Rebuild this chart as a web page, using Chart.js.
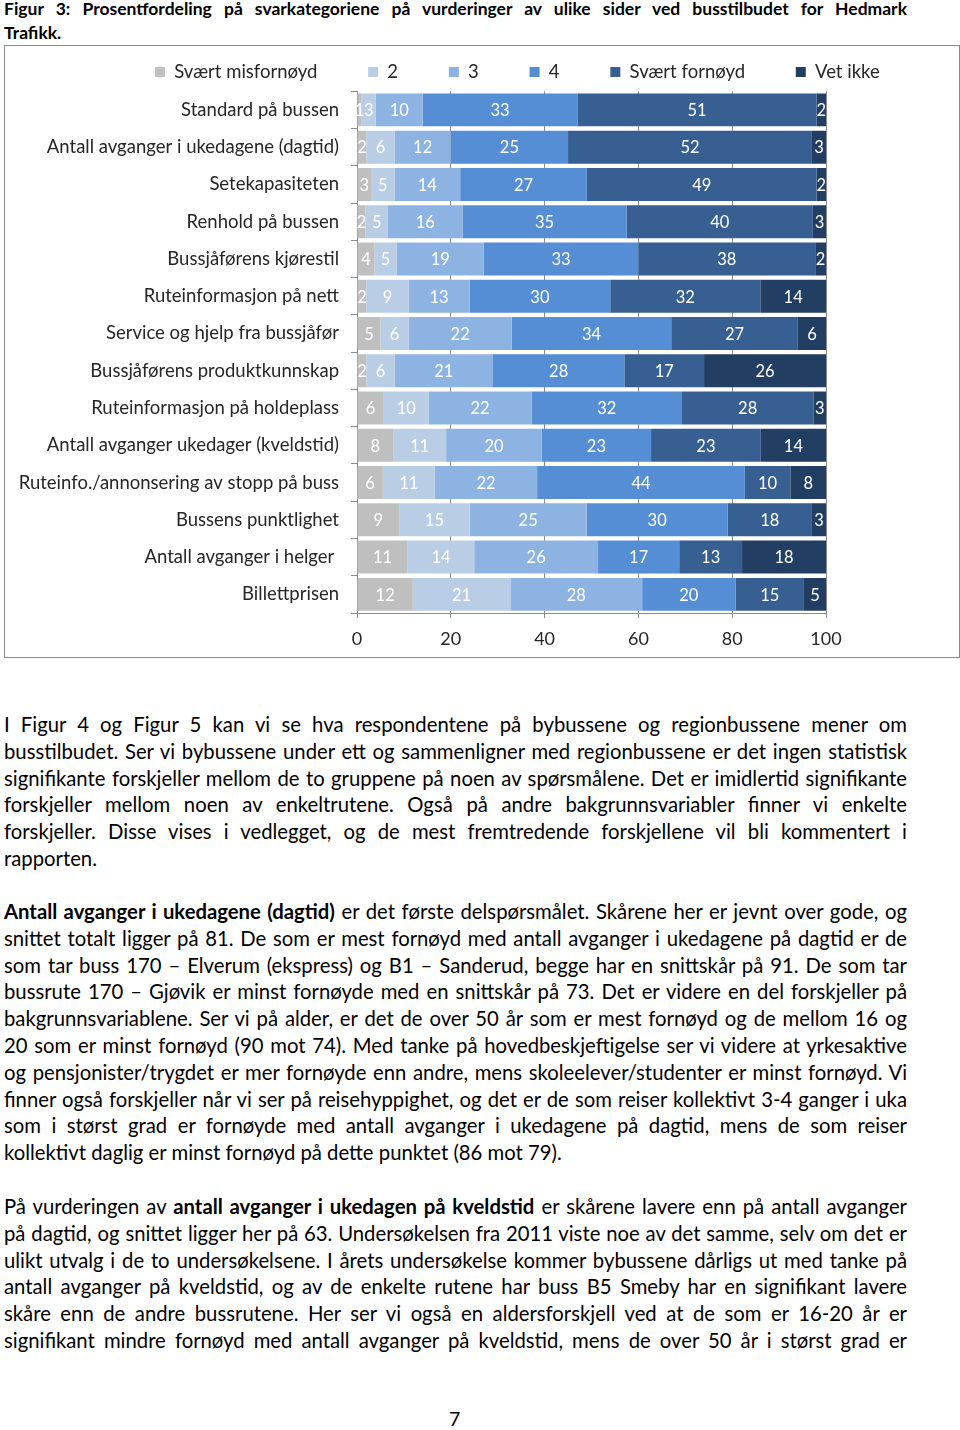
<!DOCTYPE html>
<html>
<head>
<meta charset="utf-8">
<script src="https://cdn.jsdelivr.net/npm/chart.js@4/dist/chart.umd.min.js"></script>
<style>
  body { margin: 0; background: #fff; width: 960px; height: 1430px; position: relative; overflow: hidden;
         font-family: Lato, "Liberation Sans", sans-serif; color: #000; }
  .block { position: absolute; left: 4px; width: 903px; }
  .title { top: -3px; font-weight: bold; font-size: 17.5px; line-height: 24px; }
  .txt { font-size: 20.3px; line-height: 26.8px; }
  .j { text-align: justify; text-align-last: justify; white-space: nowrap; word-spacing: -2.5px; }
  .title .j { word-spacing: 0; }
  .j, .l { height: 26.8px; }
  .title .j, .title .l { height: 24px; }
  #box { position: absolute; left: 4px; top: 45px; width: 954px; height: 611px; border: 1px solid #8a8a8a; overflow: hidden; }
  #wrap { position: absolute; left: 0; top: -34px; width: 954px; height: 645px; }
  #page { position: absolute; left: 449px; top: 1407px; font-size: 19.5px; }
</style>
</head>
<body>
<div class="block title">
  <div class="j">Figur 3: Prosentfordeling på svarkategoriene på vurderinger av ulike sider ved busstilbudet for Hedmark</div>
  <div class="l">Trafikk.</div>
</div>

<div id="box"><div id="wrap"><canvas id="chart"></canvas></div></div>

<div class="block txt" style="top:711px">
  <div class="j">I Figur 4 og Figur 5 kan vi se hva respondentene på bybussene og regionbussene mener om</div>
  <div class="j">busstilbudet. Ser vi bybussene under ett og sammenligner med regionbussene er det ingen statistisk</div>
  <div class="j">signifikante forskjeller mellom de to gruppene på noen av spørsmålene. Det er imidlertid signifikante</div>
  <div class="j">forskjeller mellom noen av enkeltrutene. Også på andre bakgrunnsvariabler finner vi enkelte</div>
  <div class="j">forskjeller. Disse vises i vedlegget, og de mest fremtredende forskjellene vil bli kommentert i</div>
  <div class="l">rapporten.</div>
</div>

<div class="block txt" style="top:898px">
  <div class="j"><b>Antall avganger i ukedagene (dagtid)</b> er det første delspørsmålet. Skårene her er jevnt over gode, og</div>
  <div class="j">snittet totalt ligger på 81. De som er mest fornøyd med antall avganger i ukedagene på dagtid er de</div>
  <div class="j">som tar buss 170 – Elverum (ekspress) og B1 – Sanderud, begge har en snittskår på 91. De som tar</div>
  <div class="j">bussrute 170 – Gjøvik er minst fornøyde med en snittskår på 73. Det er videre en del forskjeller på</div>
  <div class="j">bakgrunnsvariablene. Ser vi på alder, er det de over 50 år som er mest fornøyd og de mellom 16 og</div>
  <div class="j">20 som er minst fornøyd (90 mot 74). Med tanke på hovedbeskjeftigelse ser vi videre at yrkesaktive</div>
  <div class="j">og pensjonister/trygdet er mer fornøyde enn andre, mens skoleelever/studenter er minst fornøyd. Vi</div>
  <div class="j">finner også forskjeller når vi ser på reisehyppighet, og det er de som reiser kollektivt 3-4 ganger i uka</div>
  <div class="j">som i størst grad er fornøyde med antall avganger i ukedagene på dagtid, mens de som reiser</div>
  <div class="l">kollektivt daglig er minst fornøyd på dette punktet (86 mot 79).</div>
</div>

<div class="block txt" style="top:1193px">
  <div class="j">På vurderingen av <b>antall avganger i ukedagen på kveldstid</b> er skårene lavere enn på antall avganger</div>
  <div class="j">på dagtid, og snittet ligger her på 63. Undersøkelsen fra 2011 viste noe av det samme, selv om det er</div>
  <div class="j">ulikt utvalg i de to undersøkelsene. I årets undersøkelse kommer bybussene dårligs ut med tanke på</div>
  <div class="j">antall avganger på kveldstid, og av de enkelte rutene har buss B5 Smeby har en signifikant lavere</div>
  <div class="j">skåre enn de andre bussrutene. Her ser vi også en aldersforskjell ved at de som er 16-20 år er</div>
  <div class="j">signifikant mindre fornøyd med antall avganger på kveldstid, mens de over 50 år i størst grad er</div>
</div>

<div id="page">7</div>

<script>
// questions, top to bottom
const categories = [
  'Standard på bussen',
  'Antall avganger i ukedagene (dagtid)',
  'Setekapasiteten',
  'Renhold på bussen',
  'Bussjåførens kjørestil',
  'Ruteinformasjon på nett',
  'Service og hjelp fra bussjåfør',
  'Bussjåførens produktkunnskap',
  'Ruteinformasjon på holdeplass',
  'Antall avganger ukedager (kveldstid)',
  'Ruteinfo./annonsering av stopp på buss',
  'Bussens punktlighet',
  'Antall avganger i helger ',
  'Billettprisen'
];

const seriesNames = ['Svært misfornøyd', '2', '3', '4', 'Svært fornøyd', 'Vet ikke'];

// percent per answer category (labels show the rounded value)
const veryDissatisfied = [1, 2, 3, 1.8, 3.7, 2, 5, 2, 5.7, 7.7, 5.5, 9, 10.8, 11.9];
const score2 = [3, 6, 5, 4.8, 4.8, 9, 6, 6, 9.6, 11.3, 11.1, 15, 14.2, 20.8];
const score3 = [10, 12, 14, 15.9, 18.5, 13, 22, 21, 21.9, 20.4, 21.8, 25, 26.4, 28.1];
const score4 = [33, 25, 27, 35.0, 33.0, 30, 34, 28, 32.1, 23.3, 44.3, 30, 17.3, 19.9];
const verySatisfied = [51, 52, 49, 39.7, 37.7, 32, 27, 17, 28.0, 23.4, 9.7, 18, 13.4, 14.6];
const dontKnow = [2, 3, 2, 2.8, 2.3, 14, 6, 26, 2.7, 13.9, 7.6, 3, 17.9, 4.7];

const xTicks = [0, 20, 40, 60, 80, 100];

const seriesColors = ['#BFBFBF', '#B9CDE5', '#8DB3E2', '#558ED5', '#375F92', '#233E63'];

const allSeries = [veryDissatisfied, score2, score3, score4, verySatisfied, dontKnow];

const axisGrey = '#8a8a8a';
const textColor = '#262626';

// white value labels in the middle of each segment
const barLabels = {
  id: 'barLabels',
  afterDatasetsDraw(chart) {
    const ctx = chart.ctx;
    ctx.save();
    ctx.font = '16.5px Lato, sans-serif';
    ctx.fillStyle = '#ffffff';
    ctx.textAlign = 'center';
    ctx.textBaseline = 'middle';
    chart.data.datasets.forEach((ds, i) => {
      chart.getDatasetMeta(i).data.forEach((bar, j) => {
        const v = Math.round(ds.data[j]);
        ctx.fillText(String(v), (bar.x + bar.base) / 2, bar.y + 1);
      });
    });
    ctx.restore();
  }
};

// the legend starts further left than chart.js would center it
const legendShift = {
  id: 'legendShift',
  afterLayout(chart) {
    chart.legend.left = 150 - chart.legend.options.labels.padding;
  }
};

new Chart(document.getElementById('chart'), {
  type: 'bar',
  data: {
    labels: categories,
    datasets: seriesNames.map((name, i) => ({
      label: name,
      data: allSeries[i],
      backgroundColor: seriesColors[i],
      borderWidth: 0,
      barPercentage: 0.885,
      categoryPercentage: 1
    }))
  },
  options: {
    indexAxis: 'y',
    responsive: true,
    maintainAspectRatio: false,
    animation: false,
    layout: { padding: 0 },
    scales: {
      x: {
        stacked: true,
        min: 0,
        max: 100,
        afterBuildTicks: s => { s.ticks = xTicks.map(v => ({ value: v })); },
        afterFit: s => { s.height = 44; },
        grid: { color: axisGrey, tickLength: 5, tickColor: axisGrey },
        border: { color: axisGrey },
        ticks: { color: textColor, padding: 10, font: { family: 'Lato', size: 18 } }
      },
      y: {
        stacked: true,
        afterFit: s => { s.width = 352; },
        grid: { drawOnChartArea: false, offset: true, tickLength: 6, color: axisGrey },
        border: { color: axisGrey },
        ticks: { color: textColor, padding: 12, font: { family: 'Lato', size: 18.5 } }
      },
      rightSpace: {
        axis: 'y',
        type: 'linear',
        position: 'right',
        afterFit: s => { s.width = 133; },
        grid: { display: false },
        border: { display: false },
        ticks: { display: false }
      }
    },
    plugins: {
      legend: {
        position: 'top',
        align: 'start',
        labels: {
          boxWidth: 10,
          boxHeight: 10,
          padding: 50.75,
          color: textColor,
          font: { family: 'Lato', size: 18.5 }
        }
      },
      tooltip: { enabled: false }
    }
  },
  plugins: [barLabels, legendShift]
});
</script>
</body>
</html>
